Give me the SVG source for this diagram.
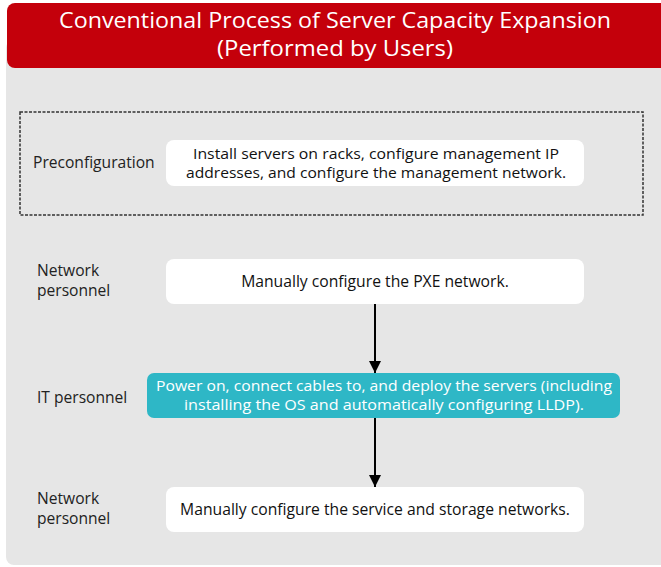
<svg xmlns="http://www.w3.org/2000/svg" width="661" height="567" viewBox="0 0 661 567">
  <style>
    .lbl { font-family: "Open Sans", "Noto Sans", "Liberation Sans", sans-serif; font-size: 15.6px; fill: #222; }
    .txt { font-family: "Open Sans", "Noto Sans", "Liberation Sans", sans-serif; font-size: 15.7px; fill: #111; text-anchor: middle; }
    .txt2 { font-family: "Open Sans", "Noto Sans", "Liberation Sans", sans-serif; font-size: 14.6px; fill: #111; text-anchor: middle; }
    .wtxt { font-family: "Open Sans", "Noto Sans", "Liberation Sans", sans-serif; font-size: 14.6px; fill: #fff; text-anchor: middle; }
    .title { font-family: "Open Sans", "Noto Sans", "Liberation Sans", sans-serif; font-size: 22px; fill: #fff; text-anchor: middle; }
    .box { fill: #fff; }
    .conn { stroke: #000; stroke-width: 2; fill: none; }
  </style>
  <defs>
    <marker id="arrow" viewBox="0 0 12 12" refX="12" refY="6" markerWidth="12" markerHeight="12" markerUnits="userSpaceOnUse" orient="auto">
      <path d="M0,0 L12,6 L0,12 Z" fill="#000"/>
    </marker>
  </defs>

  <rect width="661" height="567" fill="#fff"/>
  <!-- grey panel -->
  <rect x="6" y="40" width="675" height="525" rx="8" fill="#e6e6e6"/>
  <!-- red header -->
  <rect x="7" y="3" width="674" height="65" rx="8" fill="#c4000b"/>
  <text class="title" x="335" y="28" textLength="552" lengthAdjust="spacingAndGlyphs">Conventional Process of Server Capacity Expansion</text>
  <text class="title" x="335" y="56" textLength="236" lengthAdjust="spacingAndGlyphs">(Performed by Users)</text>

  <!-- preconfiguration stage -->
  <g id="preconfig">
    <rect x="20" y="112" width="623" height="103" fill="none" stroke="#333" stroke-width="1.5" stroke-dasharray="3,1.5"/>
    <text class="lbl" x="33" y="168">Preconfiguration</text>
    <rect class="box" x="166" y="140" width="418" height="46" rx="8"/>
    <text class="txt2" x="376" y="159" textLength="366" lengthAdjust="spacingAndGlyphs">Install servers on racks, configure management IP</text>
    <text class="txt2" x="376" y="178" textLength="380" lengthAdjust="spacingAndGlyphs">addresses, and configure the management network.</text>
  </g>

  <g id="pxe">
    <text class="lbl" x="37" y="276">Network</text>
    <text class="lbl" x="37" y="296">personnel</text>
    <rect class="box" x="166" y="259" width="418" height="45" rx="8"/>
    <text class="txt" x="375" y="287">Manually configure the PXE network.</text>
  </g>

  <g id="deploy">
    <text class="lbl" x="37" y="403">IT personnel</text>
    <rect x="147" y="373" width="473" height="45" rx="7" fill="#2eb7c6"/>
    <text class="wtxt" x="384" y="391" textLength="456" lengthAdjust="spacingAndGlyphs">Power on, connect cables to, and deploy the servers (including</text>
    <text class="wtxt" x="384" y="410" textLength="400" lengthAdjust="spacingAndGlyphs">installing the OS and automatically configuring LLDP).</text>
  </g>

  <g id="service">
    <text class="lbl" x="37" y="504">Network</text>
    <text class="lbl" x="37" y="524">personnel</text>
    <rect class="box" x="166" y="487" width="418" height="45" rx="8"/>
    <text class="txt" x="375" y="515">Manually configure the service and storage networks.</text>
  </g>

  <g id="connectors">
    <line class="conn" x1="375" y1="304" x2="375" y2="373" marker-end="url(#arrow)"/>
    <line class="conn" x1="375" y1="418" x2="375" y2="487" marker-end="url(#arrow)"/>
  </g>
</svg>
